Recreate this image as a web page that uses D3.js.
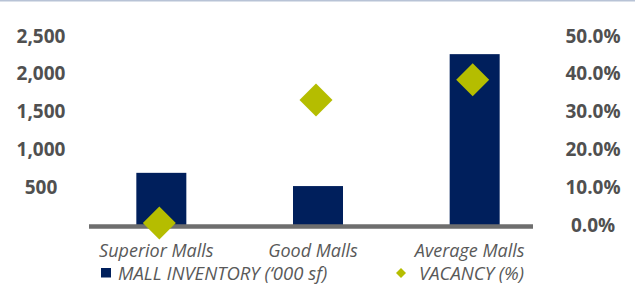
<!DOCTYPE html>
<html>
<head>
<meta charset="utf-8">
<script src="https://cdn.jsdelivr.net/npm/d3@7"></script>
<style>
  body { margin: 0; background: #fff; }
  svg { display: block; }
  .tick text { font-family: "Open Sans", sans-serif; font-weight: bold; font-size: 19px; fill: #505050; }
  .cat { font-family: "Open Sans", sans-serif; font-style: italic; font-size: 18px; fill: #595959; }
  .leg { font-family: "Open Sans", sans-serif; font-style: italic; font-size: 18.5px; fill: #595959; }
</style>
</head>
<body>
<svg id="chart" width="635" height="287"></svg>
<script>
// data
var categories = ['Superior Malls', 'Good Malls', 'Average Malls'];
var inventory = [690, 515, 2260];          // '000 sf
var vacancy = [0.005, 0.331, 0.384];       // share
var leftTicks = [500, 1000, 1500, 2000, 2500];
var rightTicks = [0, 0.1, 0.2, 0.3, 0.4, 0.5];
var seriesNames = ['MALL INVENTORY (\u2018000 sf)', 'VACANCY (%)'];

var svg = d3.select('#chart'),
    navy = '#001f5c',
    lime = '#b5bd00';

var x = d3.scaleBand().domain(categories).range([83, 553]).paddingInner(0).paddingOuter(0);
var yL = d3.scaleLinear().domain([0, 2500]).range([225, 36]);
var yR = d3.scaleLinear().domain([0, 0.5]).range([225, 36]);

// top border
svg.append('rect').attr('x', 0).attr('y', 0).attr('width', 635).attr('height', 1.5).attr('fill', '#b8c3d6');

// left axis (labels only)
var gl = svg.append('g').attr('transform', 'translate(41,0)')
  .call(d3.axisLeft(yL).tickValues(leftTicks).tickSize(0).tickFormat(d3.format(',')));
gl.select('.domain').remove();
gl.selectAll('.tick text').attr('x', 0).attr('text-anchor', 'middle');

// right axis (labels only)
var gr = svg.append('g').attr('transform', 'translate(593,0)')
  .call(d3.axisRight(yR).tickValues(rightTicks).tickSize(0).tickFormat(d3.format('.1%')));
gr.select('.domain').remove();
gr.selectAll('.tick text').attr('x', 0).attr('text-anchor', 'middle');

// bars
var bw = 50;
svg.append('g').selectAll('rect')
  .data(inventory)
  .enter().append('rect')
    .attr('x', function(d, i){ return x(categories[i]) + x.bandwidth()/2 - bw/2; })
    .attr('y', function(d){ return yL(d); })
    .attr('width', bw)
    .attr('height', function(d){ return yL(0) - yL(d); })
    .attr('fill', navy);

// baseline
svg.append('line')
  .attr('x1', 89).attr('x2', 533)
  .attr('y1', yL(0) + 1.5).attr('y2', yL(0) + 1.5)
  .attr('stroke', '#6e6e6e').attr('stroke-width', 4.5);

// diamonds
var dh = 16.5;
svg.append('g').selectAll('path')
  .data(vacancy)
  .enter().append('path')
    .attr('transform', function(d, i){
      return 'translate(' + (x(categories[i]) + x.bandwidth()/2 - 2) + ',' + yR(d) + ')';
    })
    .attr('d', 'M0,' + (-dh) + 'L' + dh + ',0L0,' + dh + 'L' + (-dh) + ',0Z')
    .attr('fill', lime);

// category labels
svg.append('g').selectAll('text')
  .data(categories)
  .enter().append('text')
    .attr('class', 'cat')
    .attr('x', function(d){ return x(d) + x.bandwidth()/2 - 5; })
    .attr('y', 257)
    .attr('text-anchor', 'middle')
    .text(function(d){ return d; });

// legend
var lg = svg.append('g');
lg.append('rect').attr('x', 101).attr('y', 268).attr('width', 10).attr('height', 9.5).attr('fill', navy);
lg.append('text').attr('class', 'leg').attr('x', 118).attr('y', 280).text(seriesNames[0]);
lg.append('path').attr('transform', 'translate(401,273)').attr('d', 'M0,-5L5,0L0,5L-5,0Z').attr('fill', lime);
lg.append('text').attr('class', 'leg').attr('x', 419).attr('y', 280).text(seriesNames[1]);
</script>
</body>
</html>
